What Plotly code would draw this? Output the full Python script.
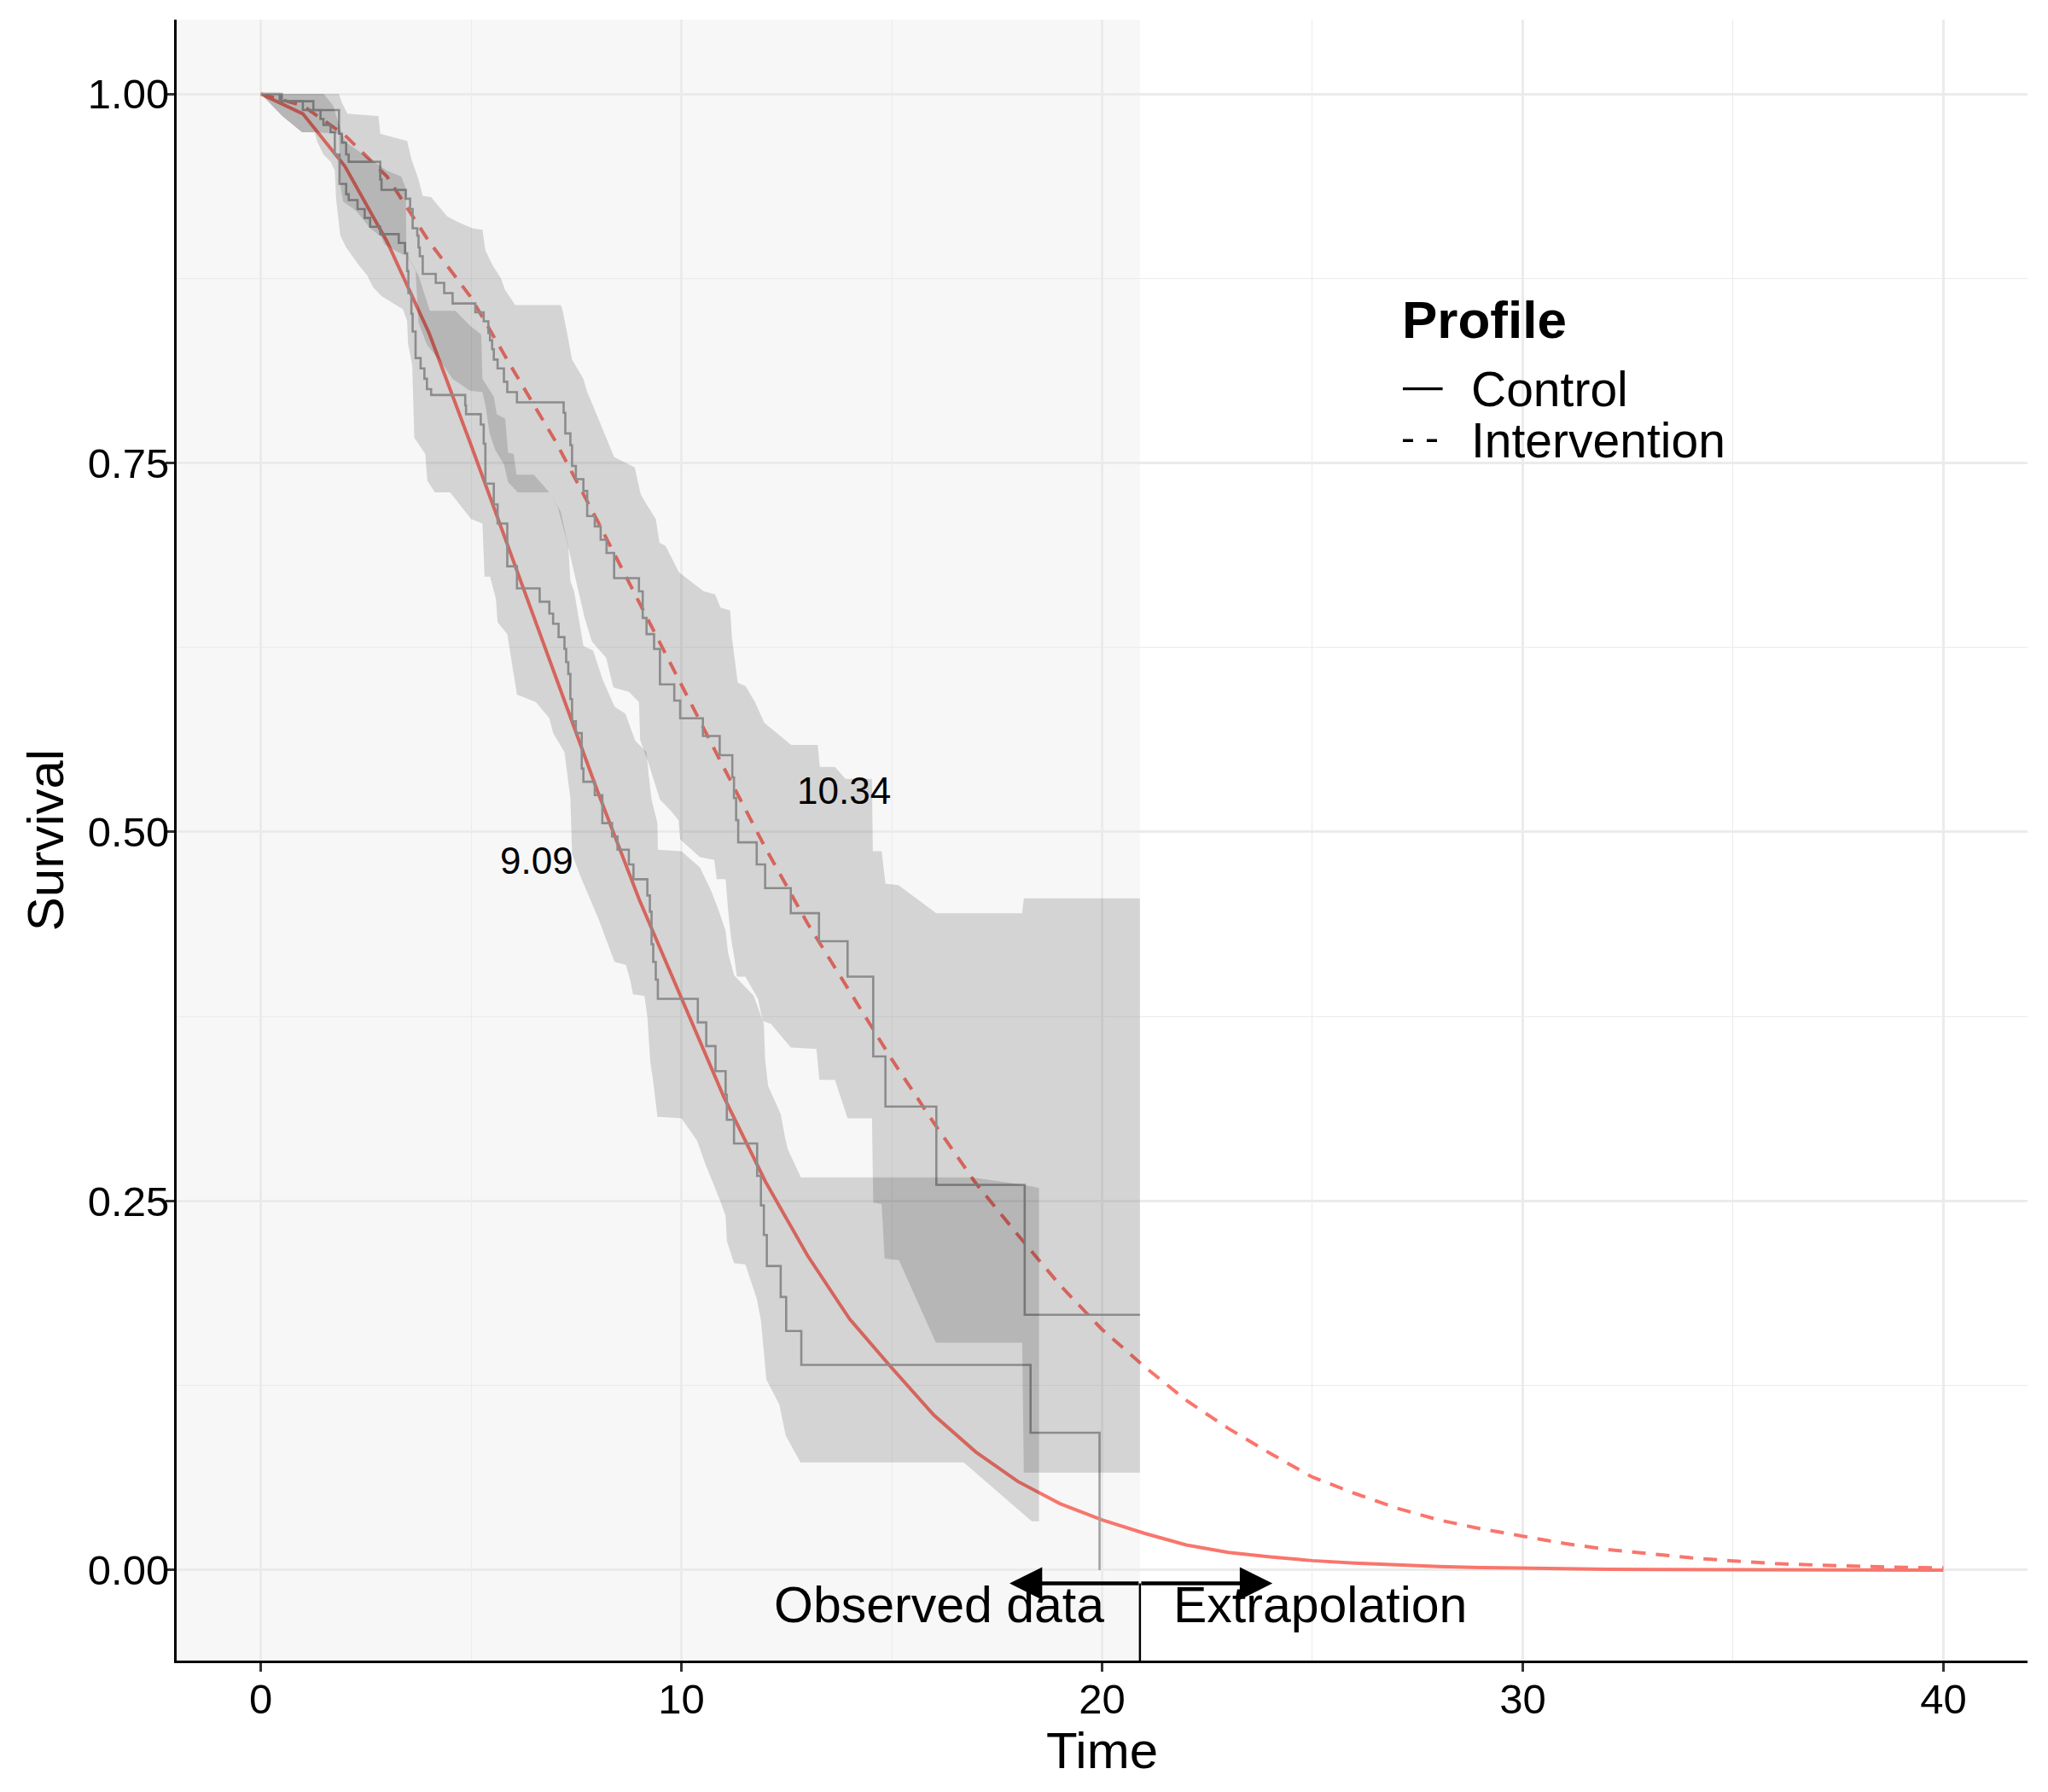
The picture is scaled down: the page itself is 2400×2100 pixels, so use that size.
import plotly.graph_objects as go

# parametric fits read at whole time points
fit_time = list(range(0, 41))
fit_control = [1.0, 0.9865, 0.951, 0.900, 0.838, 0.762, 0.684, 0.606, 0.528, 0.454,
               0.387, 0.321, 0.263, 0.213, 0.170, 0.137, 0.105, 0.080, 0.060, 0.045,
               0.034, 0.025, 0.017, 0.012, 0.0089, 0.0064, 0.0047, 0.0035, 0.0024, 0.0017,
               0.0012, 0.0008, 0.0006, 0.0004, 0.0003, 0.0002, 0.0001, 0.0001, 0.0, 0.0, 0.0]
fit_intervention = [1.0, 0.992, 0.972, 0.944, 0.900, 0.862, 0.813, 0.765, 0.711, 0.655,
                    0.600, 0.544, 0.489, 0.438, 0.392, 0.346, 0.303, 0.262, 0.227, 0.193,
                    0.163, 0.138, 0.115, 0.096, 0.079, 0.063, 0.052, 0.042, 0.034, 0.028,
                    0.023, 0.018, 0.014, 0.011, 0.0083, 0.0062, 0.0044, 0.0034, 0.0025, 0.0019,
                    0.0015]

# Kaplan-Meier steps (time of drop, survival after drop)
km_control_t = [0, 0.45, 1.0, 1.42, 1.49, 1.66, 1.76, 1.87, 2.03, 2.09, 2.30, 2.47, 2.60,
                2.84, 3.28, 3.43, 3.48, 3.51, 3.58, 3.61, 3.68, 3.80, 3.89, 3.95, 4.05,
                4.86, 4.88, 5.23, 5.30, 5.34, 5.54, 5.63, 5.86, 6.09, 6.63, 6.86, 6.95,
                7.08, 7.22, 7.26, 7.31, 7.36, 7.40, 7.49, 7.63, 7.67, 7.94, 8.12, 8.35,
                8.48, 8.75, 8.86, 9.19, 9.25, 9.29, 9.33, 9.39, 9.44, 10.39, 10.59, 10.81,
                11.05, 11.08, 11.25, 11.80, 11.89, 11.96, 12.03, 12.36, 12.49, 12.85,
                18.30, 19.94]
km_control_s = [1.0, 0.995, 0.989, 0.983, 0.979, 0.974, 0.959, 0.939, 0.932, 0.928, 0.922,
                0.916, 0.910, 0.905, 0.899, 0.892, 0.880, 0.865, 0.851, 0.839, 0.821,
                0.814, 0.807, 0.800, 0.796, 0.789, 0.783, 0.776, 0.763, 0.736, 0.722,
                0.709, 0.680, 0.665, 0.656, 0.648, 0.641, 0.632, 0.624, 0.615, 0.607,
                0.590, 0.575, 0.567, 0.543, 0.534, 0.525, 0.506, 0.497, 0.488, 0.478,
                0.468, 0.457, 0.446, 0.424, 0.412, 0.400, 0.387, 0.371, 0.355, 0.338,
                0.322, 0.305, 0.289, 0.267, 0.247, 0.227, 0.206, 0.185, 0.162, 0.139,
                0.093, 0.0]

km_interv_t = [0, 0.5, 1.25, 1.86, 1.93, 2.03, 2.09, 2.84, 2.87, 3.45, 3.55, 3.61, 3.72,
               3.75, 3.78, 3.85, 4.16, 4.36, 4.56, 5.10, 5.30, 5.41, 5.45, 5.50, 5.54,
               5.63, 5.78, 5.86, 6.09, 7.20, 7.24, 7.36, 7.40, 7.49, 7.67, 7.76, 7.94,
               8.08, 8.22, 8.40, 8.99, 9.08, 9.17, 9.35, 9.49, 9.83, 9.97, 10.51, 10.91,
               11.21, 11.25, 11.30, 11.35, 11.79, 11.99, 12.60, 13.27, 13.95, 14.56,
               14.85, 16.06, 18.16, 20.90]
km_interv_s = [1.0, 0.995, 0.989, 0.973, 0.967, 0.959, 0.954, 0.942, 0.935, 0.929, 0.922,
               0.909, 0.904, 0.896, 0.890, 0.878, 0.872, 0.865, 0.858, 0.852, 0.846,
               0.838, 0.833, 0.827, 0.820, 0.814, 0.805, 0.798, 0.791, 0.784, 0.770,
               0.762, 0.748, 0.739, 0.731, 0.714, 0.707, 0.698, 0.689, 0.672, 0.663,
               0.645, 0.634, 0.624, 0.600, 0.589, 0.577, 0.565, 0.552, 0.537, 0.523,
               0.508, 0.493, 0.478, 0.462, 0.445, 0.426, 0.402, 0.348, 0.314, 0.261,
               0.173, 0.173]

# confidence bands
ci_control_upper_t = [0, 1.5, 1.72, 1.93, 2.03, 3.0, 3.34, 3.45, 3.46, 3.6, 3.75, 4.02,
                      4.63, 4.97, 5.24, 5.27, 5.54, 5.61, 5.81, 5.88, 6.01, 6.08, 6.49,
                      6.86, 7.13, 7.31, 7.36, 7.45, 7.67, 7.90, 8.13, 8.41, 8.67, 8.90,
                      9.17, 9.22, 9.29, 9.43, 9.44, 10.0, 10.44, 10.71, 10.91, 11.05,
                      11.11, 11.25, 11.72, 11.96, 11.99, 12.06, 12.36, 12.47, 12.53,
                      12.84, 16.9, 18.14, 18.5]
ci_control_upper_s = [1.0, 1.0, 0.992, 0.973, 0.967, 0.948, 0.944, 0.936, 0.892, 0.885,
                      0.877, 0.853, 0.853, 0.843, 0.837, 0.807, 0.795, 0.783, 0.780,
                      0.757, 0.756, 0.742, 0.742, 0.730, 0.717, 0.694, 0.670, 0.663,
                      0.626, 0.623, 0.603, 0.585, 0.580, 0.562, 0.554, 0.539, 0.522,
                      0.506, 0.488, 0.487, 0.476, 0.460, 0.445, 0.433, 0.418, 0.403,
                      0.389, 0.370, 0.346, 0.328, 0.309, 0.292, 0.285, 0.266, 0.266,
                      0.261, 0.259]
ci_control_lower_t = [0, 0.51, 0.98, 1.28, 1.35, 1.49, 1.66, 1.76, 1.79, 1.89, 2.03, 2.33,
                      2.53, 2.67, 2.87, 3.38, 3.48, 3.50, 3.60, 3.65, 3.91, 3.96, 4.14,
                      4.50, 5.0, 5.27, 5.32, 5.45, 5.59, 5.63, 5.86, 6.09, 6.54, 6.86,
                      6.95, 7.22, 7.36, 7.40, 7.60, 8.03, 8.41, 8.68, 8.78, 8.85, 9.12,
                      9.19, 9.26, 9.32, 9.43, 10.0, 10.37, 10.57, 10.91, 11.05, 11.08,
                      11.25, 11.52, 11.79, 11.89, 11.99, 12.02, 12.33, 12.48, 12.83,
                      16.71, 18.33, 18.5]
ci_control_lower_s = [1.0, 0.985, 0.974, 0.974, 0.967, 0.959, 0.954, 0.948, 0.929, 0.904,
                      0.896, 0.884, 0.877, 0.869, 0.863, 0.854, 0.846, 0.831, 0.816,
                      0.767, 0.756, 0.738, 0.730, 0.730, 0.712, 0.709, 0.673, 0.673,
                      0.658, 0.642, 0.634, 0.593, 0.588, 0.577, 0.567, 0.554, 0.523,
                      0.485, 0.470, 0.441, 0.412, 0.410, 0.400, 0.390, 0.389, 0.375,
                      0.344, 0.333, 0.307, 0.306, 0.291, 0.275, 0.251, 0.240, 0.223,
                      0.208, 0.207, 0.184, 0.169, 0.138, 0.129, 0.112, 0.091, 0.073,
                      0.073, 0.033, 0.033]

ci_interv_upper_t = [0, 1.86, 1.93, 2.06, 2.80, 2.84, 3.48, 3.58, 3.75, 3.85, 4.05, 4.43,
                     4.70, 5.03, 5.27, 5.34, 5.51, 5.71, 5.81, 6.05, 7.13, 7.17, 7.31,
                     7.40, 7.67, 7.76, 7.85, 8.03, 8.17, 8.40, 8.89, 9.03, 9.17, 9.39,
                     9.48, 9.62, 9.94, 10.53, 10.80, 10.93, 11.16, 11.20, 11.34, 11.52,
                     11.75, 11.97, 12.61, 13.24, 13.29, 13.65, 13.90, 14.53, 14.55,
                     14.76, 14.85, 15.16, 16.06, 18.10, 18.14, 20.90]
ci_interv_upper_s = [1.0, 1.0, 0.994, 0.9865, 0.985, 0.973, 0.968, 0.956, 0.942, 0.931,
                     0.930, 0.917, 0.913, 0.909, 0.908, 0.894, 0.884, 0.875, 0.867,
                     0.857, 0.857, 0.854, 0.834, 0.820, 0.807, 0.798, 0.792, 0.779,
                     0.770, 0.754, 0.747, 0.729, 0.722, 0.712, 0.696, 0.694, 0.676,
                     0.663, 0.661, 0.652, 0.650, 0.632, 0.601, 0.599, 0.588, 0.574,
                     0.559, 0.559, 0.544, 0.544, 0.536, 0.536, 0.487, 0.487, 0.465,
                     0.464, 0.445, 0.445, 0.455, 0.455]
ci_interv_lower_t = [0, 0.51, 0.98, 1.28, 1.86, 1.89, 1.96, 2.26, 2.6, 2.87, 2.94, 3.38,
                     3.45, 3.68, 3.75, 3.95, 4.29, 4.56, 4.97, 5.27, 5.34, 5.44, 5.57,
                     5.78, 5.88, 6.11, 6.86, 7.06, 7.26, 7.5, 7.7, 7.87, 8.21, 8.38,
                     8.75, 8.99, 9.02, 9.19, 9.33, 9.49, 9.76, 9.93, 9.97, 10.44, 10.78,
                     10.84, 11.05, 11.11, 11.18, 11.25, 11.32, 11.52, 11.82, 11.93,
                     12.13, 12.6, 13.21, 13.28, 13.65, 13.95, 14.53, 14.56, 14.76,
                     14.83, 15.17, 16.05, 18.10, 18.14, 20.90]
ci_interv_lower_s = [1.0, 0.985, 0.974, 0.974, 0.973, 0.938, 0.927, 0.921, 0.909, 0.903,
                     0.898, 0.891, 0.892, 0.880, 0.845, 0.830, 0.818, 0.807, 0.799,
                     0.798, 0.789, 0.770, 0.759, 0.749, 0.737, 0.730, 0.730, 0.720,
                     0.699, 0.670, 0.645, 0.629, 0.618, 0.598, 0.595, 0.588, 0.562,
                     0.549, 0.537, 0.522, 0.514, 0.508, 0.495, 0.483, 0.481, 0.468,
                     0.468, 0.447, 0.428, 0.416, 0.402, 0.402, 0.387, 0.372, 0.370,
                     0.354, 0.353, 0.332, 0.332, 0.306, 0.306, 0.249, 0.248, 0.211,
                     0.210, 0.154, 0.154, 0.066, 0.066]

median_labels = ["9.09", "10.34"]
median_label_t = [6.56, 13.87]
median_label_s = [0.4805, 0.5283]

OBS_END = 20.9
ARROW_Y = -0.009
ARROW_LEFT = 17.8
ARROW_RIGHT = 24.05
X_RANGE = [-2, 42]
Y_RANGE = [-0.0613, 1.0503]

RED = "#F8766D"
KM_GREY = "#a3a3a3"
BAND = "rgba(0,0,0,0.14)"
FONT = "Liberation Sans, Arial, sans-serif"

fig = go.Figure()

fig.add_trace(go.Scatter(x=fit_time, y=fit_control, mode="lines",
                         line=dict(color=RED, width=4), showlegend=False))
fig.add_trace(go.Scatter(x=fit_time, y=fit_intervention, mode="lines",
                         line=dict(color=RED, width=4, dash="16px,12px"),
                         showlegend=False))

for t, s in [(km_control_t, km_control_s), (km_interv_t, km_interv_s)]:
    fig.add_trace(go.Scatter(x=t, y=s, mode="lines", line_shape="hv",
                             line=dict(color=KM_GREY, width=2.6), showlegend=False))

# bands on top, so the lines underneath get shaded like the original
bands = [
    (ci_control_upper_t, ci_control_upper_s, ci_control_lower_t, ci_control_lower_s),
    (ci_interv_upper_t, ci_interv_upper_s, ci_interv_lower_t, ci_interv_lower_s),
]
for ut, us, lt, ls in bands:
    fig.add_trace(go.Scatter(x=ut + lt[::-1], y=us + ls[::-1], mode="lines",
                             fill="toself", fillcolor=BAND, line=dict(width=0),
                             hoverinfo="skip", showlegend=False))

# observed-data shading
fig.add_shape(type="rect", xref="x", yref="paper", x0=X_RANGE[0], x1=OBS_END,
              y0=0, y1=1, fillcolor="#f7f7f7", line_width=0, layer="below")
fig.add_shape(type="line", xref="x", yref="y", x0=OBS_END, x1=OBS_END,
              y0=ARROW_Y, y1=Y_RANGE[0], line=dict(color="black", width=2.5))

for head in [ARROW_LEFT, ARROW_RIGHT]:
    fig.add_annotation(x=head, y=ARROW_Y, ax=OBS_END, ay=ARROW_Y,
                       xref="x", yref="y", axref="x", ayref="y", text="",
                       showarrow=True, arrowhead=2, arrowsize=1.7, arrowwidth=4.5,
                       arrowcolor="black")

fig.add_annotation(x=OBS_END - 0.8, y=-0.024, text="Observed data", showarrow=False,
                   xanchor="right", yanchor="middle", font=dict(size=59, color="black"))
fig.add_annotation(x=OBS_END + 0.75, y=-0.024, text="Extrapolation", showarrow=False,
                   xanchor="left", yanchor="middle", font=dict(size=59, color="black"))

for lab, t, s in zip(median_labels, median_label_t, median_label_s):
    fig.add_annotation(x=t, y=s, text=lab, showarrow=False, xanchor="center",
                       yanchor="middle", font=dict(size=44, color="black"))

# legend drawn by hand so the keys are black like the original
fig.add_annotation(xref="paper", yref="paper", x=0.661, y=0.817, text="<b>Profile</b>",
                   showarrow=False, xanchor="left", yanchor="middle",
                   font=dict(size=62, color="black"))
legend_rows = [("Control", "solid", 0.775), ("Intervention", "12px,16px", 0.7435)]
for name, dash, ypos in legend_rows:
    fig.add_shape(type="line", xref="paper", yref="paper", x0=0.6625, x1=0.684,
                  y0=ypos, y1=ypos, line=dict(color="black", width=3.3, dash=dash))
    fig.add_annotation(xref="paper", yref="paper", x=0.6985, y=ypos, text=name,
                       showarrow=False, xanchor="left", yanchor="middle",
                       font=dict(size=57, color="black"))

grid = dict(showgrid=True, gridcolor="#ebebeb", gridwidth=2.5, zeroline=False,
            showline=True, linecolor="black", linewidth=3, ticks="outside",
            ticklen=10, tickwidth=2.5, tickcolor="#333333",
            tickfont=dict(size=49, color="black"))

fig.update_xaxes(range=X_RANGE, tick0=0, dtick=10, ticklabelstandoff=-10,
                 title=dict(text="Time", standoff=12, font=dict(size=60, color="black")),
                 minor=dict(dtick=5, tick0=0, showgrid=True, gridcolor="#ebebeb",
                            gridwidth=1.4), **grid)
fig.update_yaxes(range=Y_RANGE, tick0=0, dtick=0.25, tickformat=".2f",
                 ticklabelstandoff=-14,
                 title=dict(text="Survival", standoff=9,
                            font=dict(size=60, color="black")),
                 minor=dict(dtick=0.125, tick0=0, showgrid=True, gridcolor="#ebebeb",
                            gridwidth=1.4), **grid)

# the page puts the figure 8px in from the top-left corner, so the margins allow for it
fig.update_layout(
    width=2400, height=2100,
    margin=dict(l=199, r=32, t=15, b=162, autoexpand=False),
    plot_bgcolor="white", paper_bgcolor="white",
    font=dict(family=FONT, color="black"),
    showlegend=False,
)

fig.write_html("out.html")
